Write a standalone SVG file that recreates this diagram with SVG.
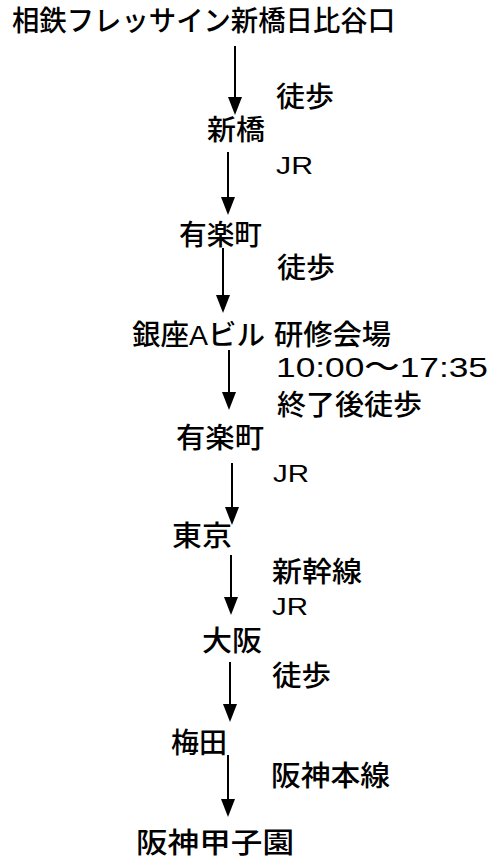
<svg xmlns="http://www.w3.org/2000/svg" width="491" height="860" viewBox="0 0 491 860">
<defs>
<style>
text{font-family:"Liberation Sans","Noto Sans CJK JP",sans-serif;fill:#000;font-size:28px;font-weight:500}
.lat{font-size:24px}
.edge{stroke:#000;stroke-width:2;fill:none}
</style>
<marker id="ah" markerUnits="userSpaceOnUse" markerWidth="18" markerHeight="14" refX="9" refY="7" orient="auto" viewBox="0 0 18 14">
<path d="M0,0 L18,7 L0,14 z" fill="#000"/>
</marker>
</defs>
<rect width="491" height="860" fill="#fff"/>
<g id="n-start"><text x="12" y="31" font-size="25" textLength="383" lengthAdjust="spacingAndGlyphs">相鉄フレッサイン新橋日比谷口</text></g>
<g id="n-shinbashi"><text x="207" y="140" textLength="58" lengthAdjust="spacingAndGlyphs">新橋</text></g>
<g id="n-yurakucho1"><text x="179" y="245" textLength="83" lengthAdjust="spacingAndGlyphs">有楽町</text></g>
<g id="n-ginza"><text x="132" y="345" textLength="133" lengthAdjust="spacingAndGlyphs">銀座Aビル</text></g>
<g id="n-yurakucho2"><text x="176" y="448" textLength="88" lengthAdjust="spacingAndGlyphs">有楽町</text></g>
<g id="n-tokyo"><text x="172" y="546" textLength="60" lengthAdjust="spacingAndGlyphs">東京</text></g>
<g id="n-osaka"><text x="202" y="651" textLength="60" lengthAdjust="spacingAndGlyphs">大阪</text></g>
<g id="n-umeda"><text x="171" y="753" textLength="56" lengthAdjust="spacingAndGlyphs">梅田</text></g>
<g id="n-koshien"><text x="136" y="853" font-size="30" textLength="158" lengthAdjust="spacingAndGlyphs">阪神甲子園</text></g>
<g id="labels">
<text x="276" y="107" textLength="58" lengthAdjust="spacingAndGlyphs">徒歩</text>
<text class="lat" x="276" y="174" textLength="37" lengthAdjust="spacingAndGlyphs">JR</text>
<text x="277" y="278" textLength="58" lengthAdjust="spacingAndGlyphs">徒歩</text>
<text x="274" y="345" textLength="117" lengthAdjust="spacingAndGlyphs">研修会場</text>
<text x="276" y="377" font-size="27" textLength="212" lengthAdjust="spacingAndGlyphs">10:00～17:35</text>
<text x="277" y="415" textLength="145" lengthAdjust="spacingAndGlyphs">終了後徒歩</text>
<text class="lat" x="273" y="482" textLength="36" lengthAdjust="spacingAndGlyphs">JR</text>
<text x="272" y="582" textLength="90" lengthAdjust="spacingAndGlyphs">新幹線</text>
<text class="lat" x="272" y="615" textLength="36" lengthAdjust="spacingAndGlyphs">JR</text>
<text x="272" y="686" textLength="59" lengthAdjust="spacingAndGlyphs">徒歩</text>
<text x="271" y="786" textLength="119" lengthAdjust="spacingAndGlyphs">阪神本線</text>
</g>
<g id="connectors">
<line class="edge" x1="235" y1="46" x2="235" y2="106" marker-end="url(#ah)"/>
<line class="edge" x1="228" y1="152" x2="228" y2="206" marker-end="url(#ah)"/>
<line class="edge" x1="223" y1="248" x2="223" y2="304" marker-end="url(#ah)"/>
<line class="edge" x1="229" y1="350" x2="229" y2="401" marker-end="url(#ah)"/>
<line class="edge" x1="232" y1="463" x2="232" y2="516" marker-end="url(#ah)"/>
<line class="edge" x1="231" y1="555" x2="231" y2="606" marker-end="url(#ah)"/>
<line class="edge" x1="230" y1="662" x2="230" y2="713" marker-end="url(#ah)"/>
<line class="edge" x1="228" y1="755" x2="228" y2="808" marker-end="url(#ah)"/>
</g>
</svg>
